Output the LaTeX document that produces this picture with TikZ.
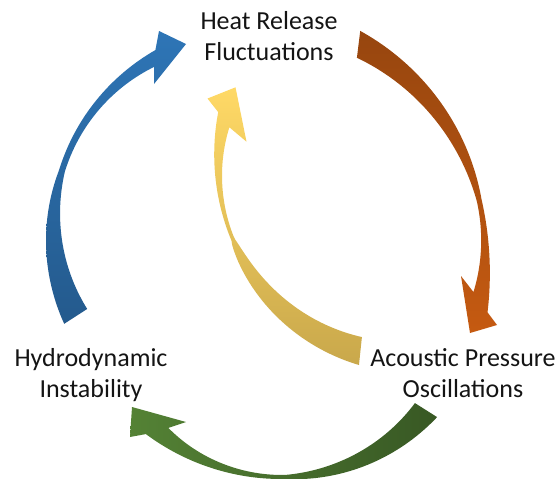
\documentclass[tikz,border=0pt]{standalone}
\usepackage{fontspec}
\setmainfont{Carlito}
\definecolor{blueA}{HTML}{245A8D}
\definecolor{blueB}{HTML}{2E75B6}
\definecolor{orangeA}{HTML}{97460F}
\definecolor{orangeB}{HTML}{C55A11}
\definecolor{greenA}{HTML}{385824}
\definecolor{greenB}{HTML}{548235}
\definecolor{yellowA}{HTML}{C9A84B}
\definecolor{yellowB}{HTML}{FFD966}
% half width of an arrow shaft as a function of the angle
\pgfmathdeclarefunction{hw}{1}{%
  \pgfmathparse{(#1-\ThA)/(\ThB-\ThA)}\let\sVal\pgfmathresult
  \pgfmathparse{max(0.0001,1-\sVal/\Ps)}\let\uVal\pgfmathresult
  \pgfmathparse{max(0,(\sVal-\Ps)/(1-\Ps))}\let\vVal\pgfmathresult
  \pgfmathparse{\Pm+\Pa*pow(\uVal,\Pp)+\Pb*\vVal*\vVal}%
}
\newcommand\arrowparams[9]{%
  \def\Cx{#1}\def\Cy{#2}\def\Rr{#3}\def\ThA{#4}\def\ThB{#5}%
  \def\Ps{#6}\def\Pm{#7}\def\Pa{#8}\def\Pp{#9}}
\newcommand\arrowheadside[1]{\def\Pb{#1}}
\begin{document}
\begin{tikzpicture}[x=1pt,y=-1pt,
  lbl/.style={font=\fontsize{26}{30.7}\selectfont, align=center, inner sep=0pt, text=black!92},
  edge/.style={samples=70, variable=\t}]
\useasboundingbox (0,0) rectangle (560,479);
% labels (base = last line)
\node[lbl, anchor=base] (heat) at (269,60) {Heat Release\\Fluctuations};
\node[lbl, anchor=base] (hydro) at (91,397) {Hydrodynamic\\Instability};
\node[lbl, anchor=base] (acou) at (463,397) {Acoustic Pressure\\Oscillations};
% blue arrow: hydro -> heat
\arrowparams{244}{227}{190.5}{151.8}{242.4}{0.5}{3}{10.7}{1}\arrowheadside{4.2}
\shade[bottom color=blueA, top color=blueB]
  plot[edge, domain=151.7:243.4] ({\Cx+(\Rr+hw(\t))*cos(\t)},{\Cy+(\Rr+hw(\t))*sin(\t)})
  -- (159,31) -- (186,44) -- (154,84)
  -- plot[edge, domain=240.7:152.4] ({\Cx+(\Rr-hw(\t))*cos(\t)},{\Cy+(\Rr-hw(\t))*sin(\t)})
  -- cycle;
% orange arrow: heat -> acou
\arrowparams{251.4}{252.1}{233.6}{-62.7}{12.3}{0.665}{2.5}{10.2}{1}\arrowheadside{6.5}
\shade[top color=orangeA, bottom color=orangeB]
  plot[edge, domain=-63.8:14.3] ({\Cx+(\Rr+hw(\t))*cos(\t)},{\Cy+(\Rr+hw(\t))*sin(\t)})
  -- (497,325) -- (470,333) -- (461,276)
  -- plot[edge, domain=10.2:-61.5] ({\Cx+(\Rr-hw(\t))*cos(\t)},{\Cy+(\Rr-hw(\t))*sin(\t)})
  -- cycle;
% green arrow: acou -> hydro
\arrowparams{281.6}{288}{189}{40.2}{131}{0.537}{2}{11}{1}\arrowheadside{7.7}
\shade[right color=greenA, left color=greenB]
  plot[edge, domain=39.7:132.9] ({\Cx+(\Rr+hw(\t))*cos(\t)},{\Cy+(\Rr+hw(\t))*sin(\t)})
  -- (130,437) -- (132,407) -- (186,422)
  -- plot[edge, domain=129:40.8] ({\Cx+(\Rr-hw(\t))*cos(\t)},{\Cy+(\Rr-hw(\t))*sin(\t)})
  -- cycle;
% yellow arrow: acou -> heat
\arrowparams{409.2}{166.5}{190.8}{104.8}{194.2}{0.588}{1.75}{12.15}{0.65}\arrowheadside{5.5}
\shade[bottom color=yellowA, top color=yellowB]
  plot[edge, domain=104.2:195.9] ({\Cx+(\Rr+hw(\t))*cos(\t)},{\Cy+(\Rr+hw(\t))*sin(\t)})
  -- (207.5,98.5) -- (235.5,87.3) -- (246.5,141.7)
  -- plot[edge, domain=192.3:105.5] ({\Cx+(\Rr-hw(\t))*cos(\t)},{\Cy+(\Rr-hw(\t))*sin(\t)})
  -- cycle;
\end{tikzpicture}
\end{document}
